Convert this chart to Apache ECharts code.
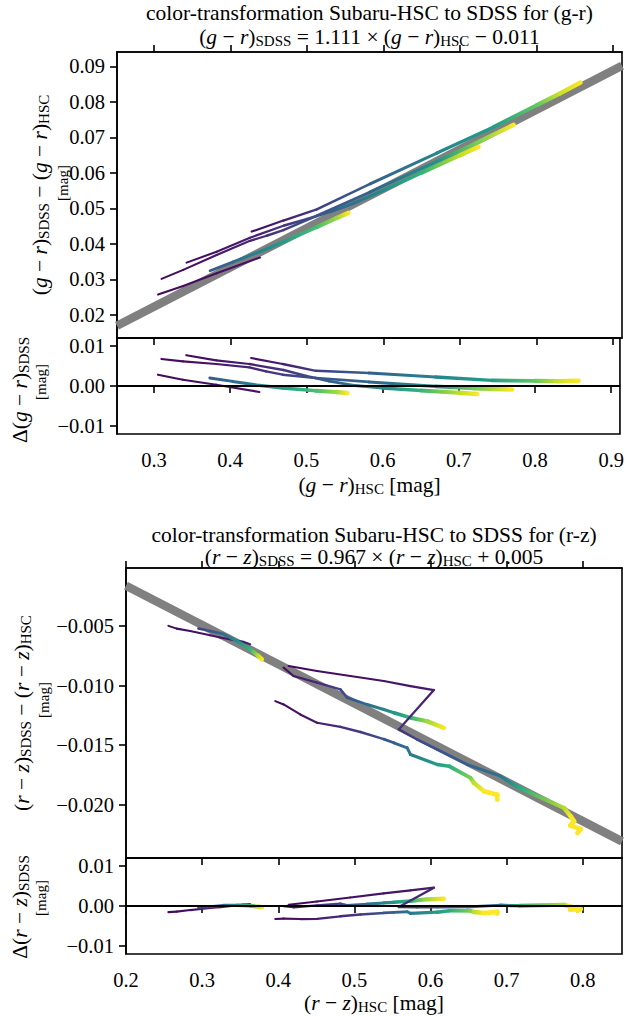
<!DOCTYPE html>
<html><head><meta charset="utf-8">
<script src="https://cdn.jsdelivr.net/npm/echarts@6/dist/echarts.min.js"></script>
<style>html,body{margin:0;padding:0;background:#fff}#c{width:627px;height:1016px}</style>
</head><body><div id="c"></div>
<script>
// ================= DATA =================
// fit coefficients: colour_SDSS = slope * colour_HSC + intercept
const grFit = [1.111, -0.011];
const rzFit = [0.967, 0.005];

// axis ranges
const grXRange = [0.2515, 0.9115];
const grYRange = [0.01347, 0.09406];
const rzXRange = [0.2, 0.8515];
const rzYRange = [-0.0245, -0.0001];
const resRange = [-0.012, 0.012];

// tick values
const grXTicks = [0.3, 0.4, 0.5, 0.6, 0.7, 0.8, 0.9];
const grYTicks = [0.02, 0.03, 0.04, 0.05, 0.06, 0.07, 0.08, 0.09];
const rzXTicks = [0.2, 0.3, 0.4, 0.5, 0.6, 0.7, 0.8];
const rzYTicks = [-0.020, -0.015, -0.010, -0.005];
const resTicks = [-0.01, 0.0, 0.01];

// tracks: [colour_HSC, colour_SDSS - colour_HSC, colour value (0..1, viridis)]
const grTrackA = [[0.3052,0.02571,0.02],[0.338,0.0281,0.03],[0.3817,0.0317,0.04],[0.4383,0.03615,0.05]];
const grTrackB = [[0.3097,0.03013,0.02],[0.338,0.03267,0.04],[0.3817,0.03687,0.06],[0.4253,0.04086,0.1],
  [0.4471,0.04228,0.14],[0.4689,0.04388,0.18],[0.5126,0.0479,0.25],[0.5823,0.05464,0.32],
  [0.6696,0.06323,0.5],[0.72,0.06832,0.78],[0.7699,0.07356,1.0]];
const grTrackC = [[0.3424,0.03471,0.03],[0.3817,0.03777,0.05],[0.4253,0.04171,0.08],[0.47,0.04517,0.15],
  [0.5,0.047,0.22],[0.53,0.04903,0.3],[0.56,0.05136,0.38],[0.6,0.0551,0.48],[0.65,0.06005,0.65],
  [0.7,0.065,0.9],[0.724,0.06736,1.0]];
const grTrackD = [[0.4275,0.04345,0.03],[0.4689,0.04655,0.08],[0.5126,0.0497,0.18],[0.5823,0.05689,0.3],
  [0.6696,0.06558,0.45],[0.7437,0.07295,0.55],[0.8,0.0791,0.75],[0.83,0.08233,0.92],[0.8572,0.08545,1.0]];
const grTrackE = [[0.3732,0.03243,0.28],[0.4034,0.03493,0.35],[0.4383,0.0378,0.45],[0.4689,0.04055,0.55],
  [0.5126,0.0447,0.7],[0.5387,0.0473,0.85],[0.5539,0.04873,1.0]];

const rzTrackP1 = [[0.2557,-0.00497,0.02],[0.2667,-0.0052,0.03],[0.2842,-0.0054,0.04],[0.3105,-0.00576,0.05],
  [0.3237,-0.00595,0.06],[0.354,-0.00632,0.08],[0.363,-0.00652,0.1]];
const rzTrackP2 = [[0.2951,-0.0052,0.18],[0.3105,-0.0054,0.25],[0.328,-0.00567,0.35],[0.3456,-0.00624,0.5],
  [0.3632,-0.00694,0.65],[0.374,-0.0075,0.9],[0.3785,-0.00778,1.0]];
const rzTrackR = [[0.407,-0.00848,0.03],[0.4201,-0.00919,0.06],[0.4509,-0.00975,0.12],[0.4816,-0.01031,0.2],
  [0.4904,-0.01101,0.25],[0.5167,-0.01158,0.35],[0.5386,-0.012,0.45],[0.5518,-0.01228,0.52],
  [0.5737,-0.0127,0.65],[0.5957,-0.01299,0.85],[0.6175,-0.01355,1.0]];
const rzTrackQ = [[0.4136,-0.00835,0.02],[0.4509,-0.00877,0.03],[0.4947,-0.00919,0.04],[0.5386,-0.00961,0.05],
  [0.5737,-0.01004,0.06],[0.6044,-0.01037,0.08],[0.5583,-0.01368,0.14],[0.5825,-0.01453,0.22],
  [0.6088,-0.01537,0.25],[0.6483,-0.01664,0.3],[0.6921,-0.01762,0.38],[0.7053,-0.01818,0.5],
  [0.7171,-0.0186,0.62],[0.7754,-0.02029,0.88],[0.7842,-0.021,1.0],[0.7886,-0.02142,1.0],
  [0.7833,-0.02178,1.0],[0.7974,-0.02206,1.0],[0.793,-0.0224,1.0]];
const rzTrackS = [[0.3961,-0.0113,0.02],[0.407,-0.01158,0.03],[0.4289,-0.01242,0.05],[0.4509,-0.01312,0.08],
  [0.4816,-0.01346,0.12],[0.5079,-0.0139,0.17],[0.5386,-0.0145,0.25],[0.5518,-0.01481,0.3],
  [0.5693,-0.01523,0.38],[0.5737,-0.01579,0.4],[0.6088,-0.01664,0.55],[0.6246,-0.01678,0.62],
  [0.6526,-0.01776,0.8],[0.657,-0.01818,0.9],[0.6702,-0.01889,1.0],[0.6877,-0.01917,1.0],[0.6877,-0.01959,1.0]];

const grTracks = [grTrackA, grTrackB, grTrackC, grTrackD, grTrackE];
const rzTracks = [rzTrackP1, rzTrackP2, rzTrackR, rzTrackQ, rzTrackS];

// ================= STYLE / HELPERS =================
const FONT = "'Liberation Serif', 'Times New Roman', serif";
const FS = 20.5, FM = 21.5, FSS = 15;
const VIRIDIS = ['#440154','#482475','#414487','#355f8d','#2a788e','#21918c','#22a884','#44bf70','#7ad151','#bddf26','#fde725'];
function hex2rgb(h){return [parseInt(h.substr(1,2),16),parseInt(h.substr(3,2),16),parseInt(h.substr(5,2),16)];}
function viridis(t){
  t = Math.max(0, Math.min(1, t));
  const f = t*10, i = Math.min(9, Math.floor(f)), u = f - i;
  const a = hex2rgb(VIRIDIS[i]), b = hex2rgb(VIRIDIS[i+1]);
  return 'rgb(' + [0,1,2].map(k => Math.round(a[k] + (b[k]-a[k])*u)).join(',') + ')';
}
function fitDiff(fit, x){ return (fit[0]-1)*x + fit[1]; }
function fmt(v, dec){
  let s = (Math.abs(v) < 1e-12 ? 0 : v).toFixed(dec);
  return s.replace('-', '\u2212');
}

function trackSeries(track, axisIdx, fit, residual){
  const pts = track.map(p => [p[0], residual ? p[1] - fitDiff(fit, p[0]) : p[1], p[2]]);
  return {
    type:'custom', xAxisIndex: axisIdx[0], yAxisIndex: axisIdx[1], clip:true, z:3, silent:true,
    data: pts, encode:{x:0, y:1},
    renderItem: function(params, api){
      const i = params.dataIndex;
      if (i >= pts.length - 1) return null;
      const a = api.coord([pts[i][0], pts[i][1]]);
      const b = api.coord([pts[i+1][0], pts[i+1][1]]);
      const w = 2.0 + 2.6*(pts[i][2] + pts[i+1][2])/2;
      return {type:'line', shape:{x1:a[0], y1:a[1], x2:b[0], y2:b[1]},
        style:{stroke: new echarts.graphic.LinearGradient(a[0], a[1], b[0], b[1],
          [{offset:0, color:viridis(pts[i][2])}, {offset:1, color:viridis(pts[i+1][2])}], true),
          lineWidth:w, lineCap:'round', fill:null}};
    }
  };
}
function fitLineSeries(fit, xr, axisIdx){
  return {type:'line', xAxisIndex:axisIdx[0], yAxisIndex:axisIdx[1], z:2, silent:true, showSymbol:false, symbol:'none',
    clip:true, data:[[xr[0], fitDiff(fit, xr[0])], [xr[1], fitDiff(fit, xr[1])]],
    lineStyle:{color:'#808080', width:8.5, cap:'butt'}};
}
function zeroLineSeries(xr, axisIdx){
  return {type:'line', xAxisIndex:axisIdx[0], yAxisIndex:axisIdx[1], z:5, silent:true, showSymbol:false, symbol:'none',
    data:[[xr[0], 0], [xr[1], 0]], lineStyle:{color:'#000', width:2}};
}
const axLine = {show:true, lineStyle:{color:'#000', width:1.6}};
function xAxisCfg(gi, xr, ticks, position, labels){
  return {type:'value', gridIndex:gi, position:position, min:xr[0], max:xr[1],
    axisLine:axLine, splitLine:{show:false},
    axisTick:{show:true, inside:false, length:7, customValues:ticks, lineStyle:{color:'#000', width:1.6}},
    axisLabel:{show:labels, customValues:ticks, formatter:v => fmt(v,1), margin:15, color:'#000', fontSize:FS, fontFamily:FONT}};
}
function yAxisCfg(gi, yr, ticks, dec){
  return {type:'value', gridIndex:gi, min:yr[0], max:yr[1],
    axisLine:axLine, splitLine:{show:false},
    axisTick:{show:true, inside:false, length:7, customValues:ticks, lineStyle:{color:'#000', width:1.6}},
    axisLabel:{show:true, customValues:ticks, formatter:v => fmt(v,dec), margin:12, color:'#000', fontSize:FS, fontFamily:FONT}};
}

const RICH = {
  r:{fontSize:FM, fontFamily:FONT, fill:'#000'},
  i:{fontSize:FM, fontFamily:FONT, fontStyle:'italic', fill:'#000'},
  s:{fontSize:FSS, fontFamily:FONT, fill:'#000', verticalAlign:'bottom', lineHeight:FSS, padding:[15,0,0,0]}
};
function col(a, b){ return '{r|(}{i|' + a + '}{r| \u2212 }{i|' + b + '}{r|)}'; }
function txt(x, y, text, opts){
  opts = opts || {};
  return {type:'text', x:x, y:y, rotation:opts.rot || 0, silent:true, z:10,
    style:{text:text, rich:opts.plain ? undefined : RICH, align:'center', verticalAlign:'middle',
      fontSize:opts.fs || FM, fontFamily:FONT, fill:'#000'}};
}
const R90 = Math.PI/2;

const graphics = [
  txt(369.5, 13, 'color-transformation Subaru-HSC to SDSS for (g-r)', {plain:true}),
  txt(369.5, 37, col('g','r') + '{s|SDSS}{r| = 1.111 \u00d7 }' + col('g','r') + '{s|HSC}{r| \u2212 0.011}'),
  txt(40, 195, col('g','r') + '{s|SDSS}{r| \u2212 }' + col('g','r') + '{s|HSC}', {rot:R90}),
  txt(63, 183, '[mag]', {rot:R90, plain:true, fs:FSS}),
  txt(20, 390, '{r|\u0394}' + col('g','r') + '{s|SDSS}', {rot:R90}),
  txt(41, 382, '[mag]', {rot:R90, plain:true, fs:FSS}),
  txt(369.5, 485, col('g','r') + '{s|HSC}{r| [mag]}'),
  txt(374, 535, 'color-transformation Subaru-HSC to SDSS for (r-z)', {plain:true}),
  txt(374, 557, col('r','z') + '{s|SDSS}{r| = 0.967 \u00d7 }' + col('r','z') + '{s|HSC}{r| + 0.005}'),
  txt(22, 713, col('r','z') + '{s|SDSS}{r| \u2212 }' + col('r','z') + '{s|HSC}', {rot:R90}),
  txt(44, 700, '[mag]', {rot:R90, plain:true, fs:FSS}),
  txt(20, 907, '{r|\u0394}' + col('r','z') + '{s|SDSS}', {rot:R90}),
  txt(41, 898, '[mag]', {rot:R90, plain:true, fs:FSS}),
  txt(374, 1003, col('r','z') + '{s|HSC}{r| [mag]}')
];

const gridStyle = {show:true, borderColor:'#000', borderWidth:1.6, backgroundColor:'transparent', containLabel:false};
const option = {
  animation:false,
  backgroundColor:'#fff',
  grid:[
    Object.assign({left:117, top:52, width:505, height:286}, gridStyle),
    Object.assign({left:117, top:338, width:505, height:96}, gridStyle),
    Object.assign({left:126, top:568, width:496, height:290}, gridStyle),
    Object.assign({left:126, top:858, width:496, height:96}, gridStyle)
  ],
  xAxis:[
    xAxisCfg(0, grXRange, grXTicks, 'bottom', false),
    xAxisCfg(0, grXRange, grXTicks, 'top', false),
    xAxisCfg(1, grXRange, grXTicks, 'bottom', true),
    xAxisCfg(2, rzXRange, rzXTicks, 'bottom', false),
    xAxisCfg(2, rzXRange, rzXTicks, 'top', false),
    xAxisCfg(3, rzXRange, rzXTicks, 'bottom', true)
  ],
  yAxis:[
    yAxisCfg(0, grYRange, grYTicks, 2),
    yAxisCfg(1, resRange, resTicks, 2),
    yAxisCfg(2, rzYRange, rzYTicks, 3),
    yAxisCfg(3, resRange, resTicks, 2)
  ],
  graphic: graphics,
  series: [].concat(
    [fitLineSeries(grFit, grXRange, [0,0])],
    grTracks.map(t => trackSeries(t, [0,0], grFit, false)),
    grTracks.map(t => trackSeries(t, [2,1], grFit, true)),
    [zeroLineSeries(grXRange, [2,1])],
    [fitLineSeries(rzFit, rzXRange, [3,2])],
    rzTracks.map(t => trackSeries(t, [3,2], rzFit, false)),
    rzTracks.map(t => trackSeries(t, [5,3], rzFit, true)),
    [zeroLineSeries(rzXRange, [5,3])]
  )
};
const chart = echarts.init(document.getElementById('c'), null, {renderer:'svg'});
chart.setOption(option);
</script>
</body></html>
